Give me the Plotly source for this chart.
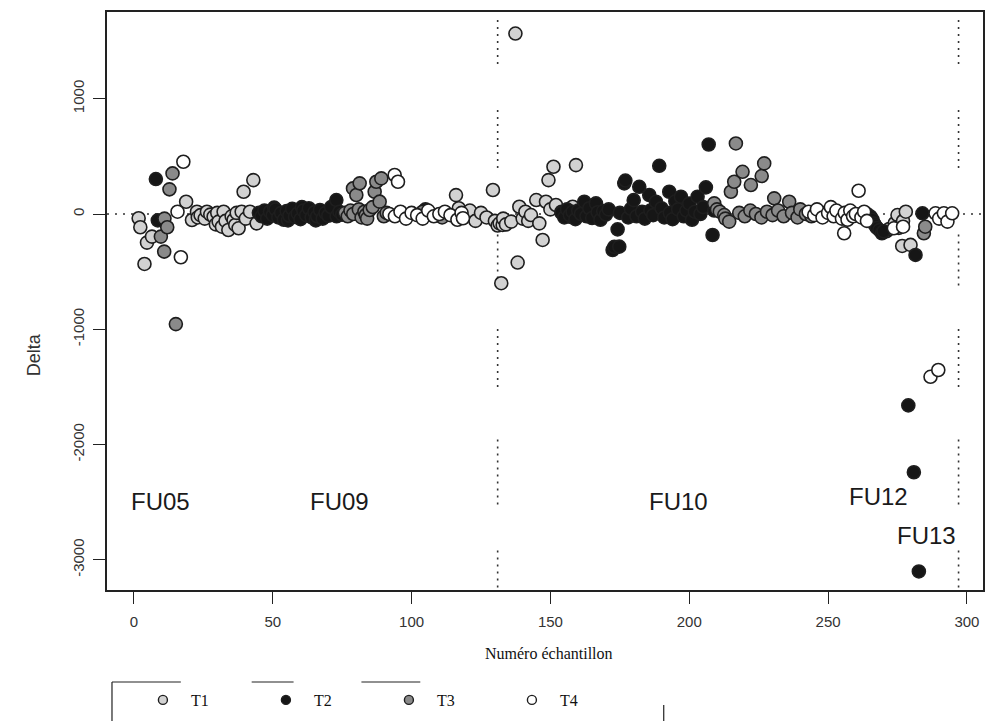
import plotly.graph_objects as go

# ---------------- data ----------------
t1_x = [1.7, 2.3, 3.8, 4.7, 6.5, 18.8, 20.9, 22.7, 23, 24, 25.5, 26.3, 27.5, 28.7, 29.5, 30, 30.5,
        31.7, 32.3, 33, 34, 35.2, 35.9, 36.5, 37, 37.7, 38.8, 39.5, 40.3, 41.8, 43, 44.2,
        116, 117, 119, 121, 123, 125, 127, 129.3, 130, 131, 131.7, 132.3, 132.8, 133, 134, 135.9,
        137.4, 138.2, 138.8, 140, 141, 142, 143, 144.9, 146, 147.2, 148.4, 149.3, 150, 151.1,
        152, 154, 156.8, 158, 159.2,
        271, 272, 274, 275, 275.5, 276, 276.7, 277, 278, 279.7]
t1_y = [-37, -115, -433, -248, -196, 106, -52, 20, -30, -10, -40, 20, -5, -23, -90, 10, -66,
        -110, 20, -60, -139, -20, -52, -95, 10, -124, 20, 193, -40, 20, 294, -81,
        164, 50, -20, 30, -60, 10, -30, 208, -60, -100, -81, -600, -95, -40, -90, -66,
        1565, -421, 63, -40, 20, -60, -9, 121, -81, -225, 106, 294, 40, 410,
        78, 20, -23, 63, 424,
        -150, -130, -80, -9, -120, -100, -277, -60, 20, -268]

t2_x = [7.9, 8.6,
        45, 46, 47, 48, 49, 50, 50.5, 51, 52, 53, 54, 55, 55.5, 56, 57, 58, 59, 60, 60.5, 61, 62,
        63, 64, 65, 65.5, 66, 67, 68, 69, 70, 71, 72.9, 73, 74, 75,
        105, 108,
        154, 155, 156, 157, 158, 159, 160, 161, 162.2, 163, 164, 165, 166.4, 167, 168, 169, 170,
        171, 172.4, 173, 174.2, 174.8, 175, 176.6, 177, 178, 179, 180, 181, 182, 183, 184, 185.6,
        186, 187, 188, 189.2, 190, 191, 192.8, 193, 194, 195, 196, 197, 198, 199, 200, 201, 202,
        203, 204, 205, 206, 207, 208.4, 209,
        264, 265.3, 266, 266.5, 267, 267.6, 268.5, 269.4, 270,
        278.9, 280.9, 281.5, 282.7, 284]
t2_y = [303, -55,
        10, -20, 30, -40, 20, -10, 55, 40, -30, 10, -50, 25, -55, -15, 45, -25, 5, -45, 60, 30, -10,
        50, -30, 15, -55, -20, 35, -40, 10, -15, 60, 121, -20, 20, -5,
        40, -10,
        10, -30, 40, -10, 20, -45, 30, 0, 106, -20, 50, -35, 92, 15, -50, 25, -5,
        40, -312, -285, -133, -283, 10, 266, 290, -30, 45, 120, -20, 236, 20, -40, 165,
        30, -10, 106, 418, 50, -30, 193, 10, -45, 110, 40, 150, -20, 30, 90, -50, 20,
        150, 0, 60, 231, 603, -182, 30,
        0, -23, -50, -81, -100, -121, -140, -167, -150,
        -1660, -2240, -355, -3100, 6]

t3_x = [9.7, 10.9, 11, 12, 12.8, 13.9, 15.1,
        76, 77, 78, 78.9, 79, 80.1, 81, 81.3, 82, 83, 83.5, 84, 84.9, 86, 86.7, 87.3, 88.5, 89.1,
        90, 91,
        100, 104, 111,
        209, 210, 211, 212.6, 213, 214.4, 215, 216.2, 216.8, 218, 219.2, 220, 222, 222.2, 224,
        226, 226.1, 227, 228, 230, 230.6, 232, 234, 236, 237, 239, 240, 242, 244, 246, 248,
        284.5, 285]
t3_y = [-196, -326, -40, -115, 214, 352, -955,
        10, -20, 30, 222, 0, 165, 40, 266, -30, 20, -10, -40, 35, 60, 193, 280, 107, 309,
        -20, 10,
        0, 20, -30,
        92, 40, 20, -9, -40, -66, 193, 280, 612, 10, 366, -20, 30, 251, 0,
        -30, 329, 439, 20, -10, 136, 30, -20, 106, 10, -30, 40, 0, -20, 30, 10,
        -167, -110]

t4_x = [15.7, 16.9, 17.8,
        92, 93.9, 94, 95.1, 96, 98, 100, 102, 104, 106, 108, 110, 112, 114, 116.5, 118, 118.5,
        243, 245, 246, 248, 250, 251, 252, 253, 255, 255.8, 256, 257, 258, 259, 260, 261, 262,
        263, 264,
        273.7, 277, 286.9, 288.7, 289.7, 290, 291.7, 293, 294.7]
t4_y = [20, -375, 453,
        0, 338, -20, 280, 20, -40, 10, -10, -40, 30, -20, 0, 20, -10, -50, 10, -37,
        20, -10, 40, -30, 10, 60, -20, 30, -40, -167, 10, -50, 30, -20, 0, 202, -30,
        20, -60,
        -124, -110, -1412, 6, -1353, -40, 6, -66, 6]

series_names = ["T1", "T2", "T3", "T4"]
series_colors = ["#d2d2d2", "#161616", "#8a8a8a", "#ffffff"]
xtick_vals = [0, 50, 100, 150, 200, 250, 300]
ytick_vals = [-3000, -2000, -1000, 0, 1000]
ytick_text = ["-3000", "-2000", "-1000", "0", "1000"]
group_labels = ["FU05", "FU09", "FU10", "FU12", "FU13"]
group_label_x = [9.4, 74, 196, 268, 285.6]
group_label_y = [-2494, -2494, -2494, -2450, -2790]
separators_x = [131, 297]

# ---------------- styling helpers ----------------
W, H = 988, 721
ML, MR, MT, MB = 107, 3, 12, 131
PW, PH = W - ML - MR, H - MT - MB

def px_x(p):
    return (p - ML) / PW

def px_y(p):
    return (H - MB - p) / PH

xr = [-9.7, 305.8]
yr = [-3261, 1752]
outline = "#1e1e1e"

fig = go.Figure()
data = [(t1_x, t1_y), (t2_x, t2_y), (t3_x, t3_y), (t4_x, t4_y)]
for (xs, ys), name, col in zip(data, series_names, series_colors):
    fig.add_trace(go.Scatter(
        x=xs, y=ys, mode="markers", name=name, showlegend=False,
        marker=dict(symbol="circle", size=13, color=col,
                    line=dict(color=outline, width=1.6)),
        cliponaxis=False,
    ))
# legend-only entries (smaller glyphs)
for name, col in zip(series_names, series_colors):
    fig.add_trace(go.Scatter(
        x=[None], y=[None], mode="markers", name="\u00a0\u00a0" + name, showlegend=True,
        marker=dict(symbol="circle", size=9, color=col,
                    line=dict(color=outline, width=1.4)),
    ))

shapes = []
shapes.append(dict(type="line", xref="paper", yref="y", x0=0, x1=1, y0=0, y1=0,
                   line=dict(color="#333333", width=1.6, dash="2px,6px"), layer="below"))
seg_y = [(1300, 1710), (400, 920), (-620, -150), (-1500, -990), (-2520, -1940), (-3240, -2890)]
for sx in separators_x:
    for a, b in seg_y:
        shapes.append(dict(type="line", xref="x", yref="y", x0=sx, x1=sx, y0=a, y1=b,
                           line=dict(color="#333333", width=1.6, dash="2px,5px"), layer="below"))
box_col = "#222222"
shapes.append(dict(type="line", xref="paper", yref="paper", x0=px_x(112), x1=px_x(112),
                   y0=px_y(682), y1=px_y(722), line=dict(color=box_col, width=1.2)))
for a, b in [(112, 181), (252, 294), (362, 421)]:
    shapes.append(dict(type="line", xref="paper", yref="paper", x0=px_x(a), x1=px_x(b),
                       y0=px_y(682), y1=px_y(682), line=dict(color=box_col, width=1.2)))
shapes.append(dict(type="line", xref="paper", yref="paper", x0=px_x(665), x1=px_x(665),
                   y0=px_y(705), y1=px_y(722), line=dict(color=box_col, width=1.2)))

annotations = []
for t, gx, gy in zip(group_labels, group_label_x, group_label_y):
    annotations.append(dict(x=gx, y=gy, xref="x", yref="y", text=t, showarrow=False,
                            font=dict(family="Liberation Sans, Arial", size=24, color="#1a1a1a")))
annotations.append(dict(x=px_x(550), y=px_y(664), xref="paper", yref="paper",
                        text="Numéro échantillon", showarrow=False,
                        font=dict(family="Liberation Serif, Times New Roman", size=16, color="#111111")))
annotations.append(dict(x=px_x(22), y=px_y(355), xref="paper", yref="paper",
                        text="Delta", showarrow=False, textangle=-90,
                        font=dict(family="Liberation Sans, Arial", size=18, color="#333333")))

axis_font = dict(family="Liberation Sans, Arial", size=15, color="#333333")
fig.update_layout(
    width=W, height=H,
    margin=dict(l=ML, r=MR, t=MT, b=MB),
    paper_bgcolor="white", plot_bgcolor="white",
    showlegend=True,
    legend=dict(orientation="h", x=px_x(143), xanchor="left", y=px_y(700), yanchor="middle",
                entrywidth=78, entrywidthmode="pixels", bgcolor="rgba(0,0,0,0)",
                font=dict(family="Liberation Serif, Times New Roman", size=16, color="#111111"),
                itemclick=False),
    xaxis=dict(range=xr, tickvals=xtick_vals, showgrid=False, zeroline=False,
               showline=True, linecolor="#222222", linewidth=1.5, mirror=True,
               ticks="outside", ticklen=12, tickwidth=1.3, tickcolor="#222222",
               tickfont=axis_font, ticklabelstandoff=5),
    yaxis=dict(range=yr, tickvals=ytick_vals, ticktext=ytick_text, showgrid=False, zeroline=False,
               showline=True, linecolor="#222222", linewidth=1.5, mirror=True,
               ticks="outside", ticklen=12, tickwidth=1.3, tickcolor="#222222",
               tickfont=axis_font, tickangle=-90, ticklabelstandoff=3),
    shapes=shapes,
    annotations=annotations,
)

fig.write_html("out.html", config={"displayModeBar": False})

# remove the browser's default page margin so the figure sits at the window origin
with open("out.html", "r", encoding="utf-8") as f:
    html = f.read()
html = html.replace("<head>", "<head><style>html,body{margin:0;padding:0;overflow:hidden;}</style>", 1)
with open("out.html", "w", encoding="utf-8") as f:
    f.write(html)
